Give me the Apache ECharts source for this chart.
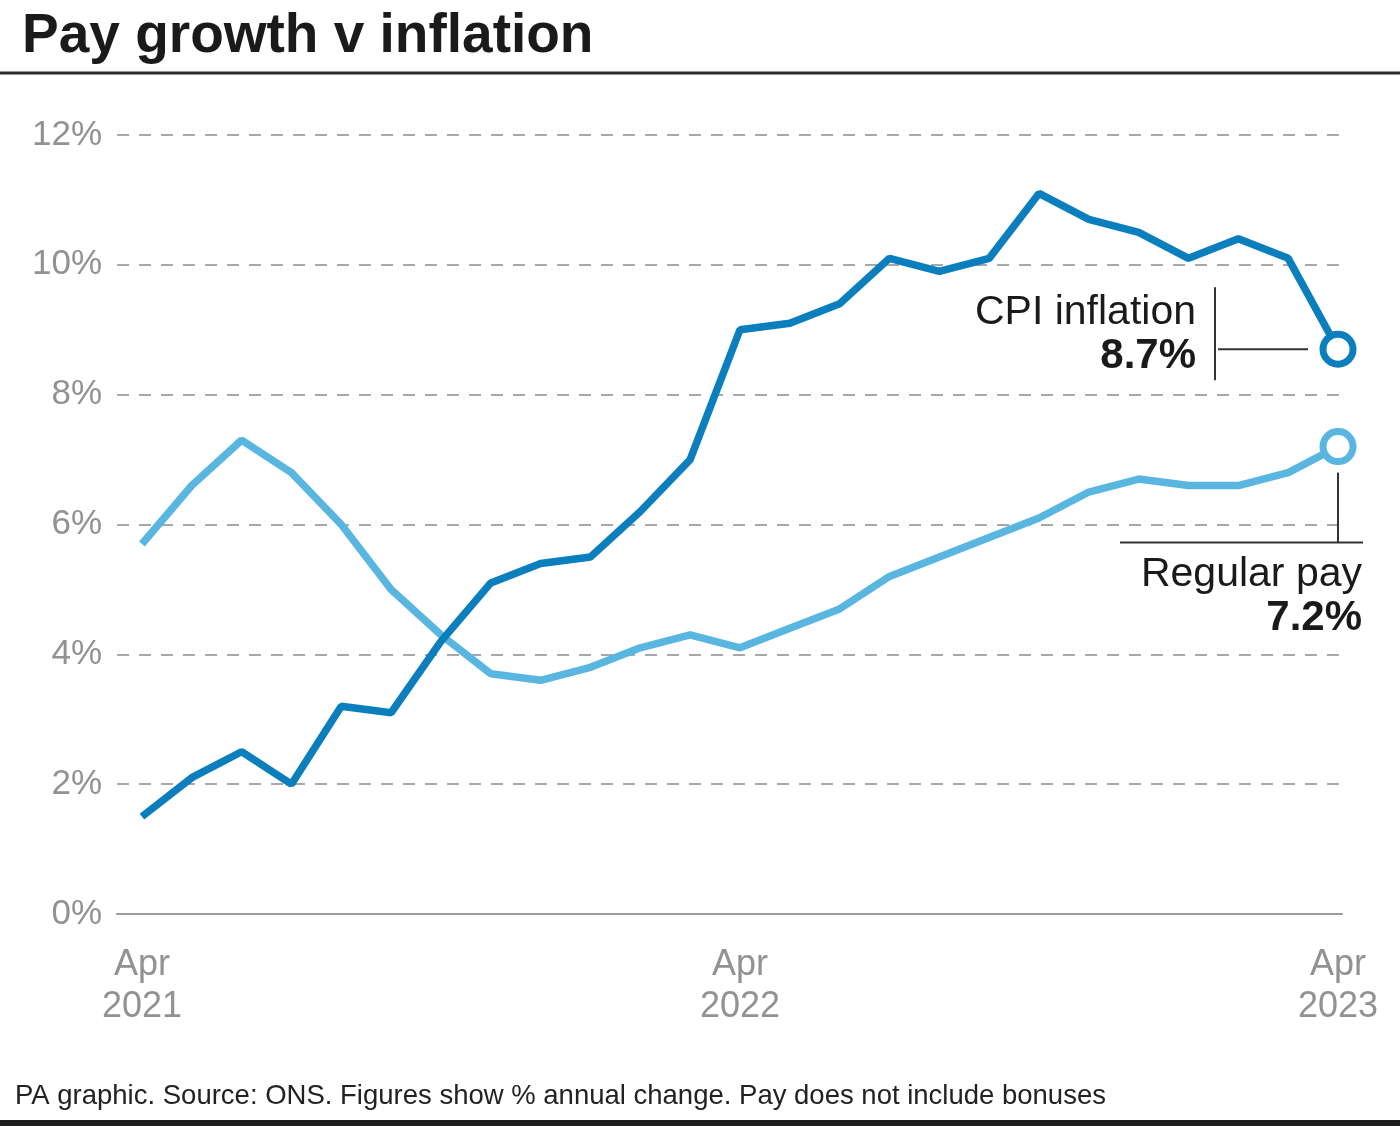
<!DOCTYPE html>
<html>
<head>
<meta charset="utf-8">
<script src="https://cdn.jsdelivr.net/npm/echarts@6/dist/echarts.min.js"></script>
<style>
html,body{margin:0;padding:0;background:#fff;}
#chart{width:1400px;height:1127px;}
</style>
</head>
<body>
<div id="chart"></div>
<script>
// Monthly categories, Apr 2021 .. Apr 2023
const months = ['Apr 2021','May 2021','Jun 2021','Jul 2021','Aug 2021','Sep 2021','Oct 2021','Nov 2021','Dec 2021',
  'Jan 2022','Feb 2022','Mar 2022','Apr 2022','May 2022','Jun 2022','Jul 2022','Aug 2022','Sep 2022','Oct 2022',
  'Nov 2022','Dec 2022','Jan 2023','Feb 2023','Mar 2023','Apr 2023'];
// CPI inflation, % annual change
const cpiInflation = [1.5,2.1,2.5,2.0,3.2,3.1,4.2,5.1,5.4,5.5,6.2,7.0,9.0,9.1,9.4,10.1,9.9,10.1,11.1,10.7,10.5,10.1,10.4,10.1,8.7];
// Regular pay growth, % annual change
const regularPay = [5.7,6.6,7.3,6.8,6.0,5.0,4.3,3.7,3.6,3.8,4.1,4.3,4.1,4.4,4.7,5.2,5.5,5.8,6.1,6.5,6.7,6.6,6.6,6.8,7.2];
// x tick labels (month index -> label)
const xTickIndex = [0, 12, 24];
const xTickLabels = ['Apr\n2021', 'Apr\n2022', 'Apr\n2023'];
const yTicks = [0, 2, 4, 6, 8, 10, 12];

const CPI_COLOR = '#0b7fbd';
const PAY_COLOR = '#59b6e0';
const FONT = '"Liberation Sans", Arial, sans-serif';

function buildData(arr, color) {
  return arr.map((v, i) => {
    if (i === arr.length - 1) {
      return {
        value: [i, v],
        symbol: 'circle',
        symbolSize: 30,
        itemStyle: { color: '#fff', borderColor: color, borderWidth: 7 }
      };
    }
    return { value: [i, v], symbol: 'none' };
  });
}

const chart = echarts.init(document.getElementById('chart'));
const option = {
  animation: false,
  backgroundColor: '#fff',
  title: [{
    text: 'Pay growth v inflation',
    left: 17, top: 4,
    textStyle: { fontFamily: FONT, fontSize: 55, fontWeight: 'bold', color: '#1a1a1a' }
  }],
  grid: { left: 117, right: 58, top: 135, bottom: 213, containLabel: false },
  xAxis: {
    type: 'value',
    min: -0.5,
    max: 24.08,
    splitLine: { show: false },
    axisTick: { show: false },
    axisLine: { show: true, lineStyle: { color: '#9a9a9a', width: 2 } },
    axisLabel: {
      show: true,
      customValues: xTickIndex,
      formatter: function (val) {
        const k = xTickIndex.indexOf(Math.round(val));
        return k >= 0 ? xTickLabels[k] : '';
      },
      margin: 30,
      fontFamily: FONT,
      fontSize: 36,
      lineHeight: 42,
      color: '#929292'
    }
  },
  yAxis: {
    type: 'value',
    min: 0, max: 12, interval: 2,
    axisLine: { show: false },
    axisTick: { show: false },
    axisLabel: {
      formatter: function (v) { return yTicks.indexOf(v) >= 0 ? v + '%' : ''; },
      margin: 15,
      fontFamily: FONT,
      fontSize: 35,
      color: '#929292'
    },
    splitLine: { show: true, lineStyle: { color: '#a8a8a8', width: 2, type: [12, 10] } }
  },
  series: [
    {
      name: 'Regular pay',
      type: 'line',
      data: buildData(regularPay, PAY_COLOR),
      lineStyle: { color: PAY_COLOR, width: 7.5 },
      itemStyle: { color: PAY_COLOR },
      clip: false,
      z: 3
    },
    {
      name: 'CPI inflation',
      type: 'line',
      data: buildData(cpiInflation, CPI_COLOR),
      lineStyle: { color: CPI_COLOR, width: 7.5 },
      itemStyle: { color: CPI_COLOR },
      clip: false,
      z: 4
    }
  ]
};
chart.setOption(option);

// Annotations positioned relative to the last data points
const last = cpiInflation.length - 1;
const pc = chart.convertToPixel({ gridIndex: 0 }, [last, cpiInflation[last]]);
const pp = chart.convertToPixel({ gridIndex: 0 }, [last, regularPay[last]]);
const lineStyle = { stroke: '#333', lineWidth: 2 };
chart.setOption({
  graphic: [
    { type: 'line', shape: { x1: 0, y1: 73, x2: 1400, y2: 73 }, style: { stroke: '#2b2b2b', lineWidth: 3 } },
    { type: 'line', shape: { x1: 0, y1: 1123, x2: 1400, y2: 1123 }, style: { stroke: '#1e1e1e', lineWidth: 6 } },
    { type: 'text', left: 15, top: 1082, style: { text: 'PA graphic. Source: ONS. Figures show % annual change. Pay does not include bonuses', font: '27.5px ' + FONT, fill: '#222' } },
    // CPI annotation
    { type: 'line', shape: { x1: pc[0] - 123, y1: pc[1] - 62, x2: pc[0] - 123, y2: pc[1] + 31 }, style: lineStyle },
    { type: 'line', shape: { x1: pc[0] - 120, y1: pc[1], x2: pc[0] - 30, y2: pc[1] }, style: lineStyle },
    { type: 'text', x: pc[0] - 142, y: pc[1] - 16, style: { text: 'CPI inflation', font: '41px ' + FONT, fill: '#1a1a1a', textAlign: 'right', textVerticalAlign: 'bottom' } },
    { type: 'text', x: pc[0] - 142, y: pc[1] + 28, style: { text: cpiInflation[last].toFixed(1) + '%', font: 'bold 42px ' + FONT, fill: '#1a1a1a', textAlign: 'right', textVerticalAlign: 'bottom' } },
    // Regular pay annotation
    { type: 'line', shape: { x1: pp[0], y1: pp[1] + 26, x2: pp[0], y2: pp[1] + 96 }, style: lineStyle },
    { type: 'line', shape: { x1: pp[0] - 218, y1: pp[1] + 96, x2: pp[0] + 25, y2: pp[1] + 96 }, style: lineStyle },
    { type: 'text', x: pp[0] + 24, y: pp[1] + 149, style: { text: 'Regular pay', font: '41px ' + FONT, fill: '#1a1a1a', textAlign: 'right', textVerticalAlign: 'bottom' } },
    { type: 'text', x: pp[0] + 24, y: pp[1] + 193, style: { text: regularPay[last].toFixed(1) + '%', font: 'bold 42px ' + FONT, fill: '#1a1a1a', textAlign: 'right', textVerticalAlign: 'bottom' } }
  ]
});
</script>
</body>
</html>
